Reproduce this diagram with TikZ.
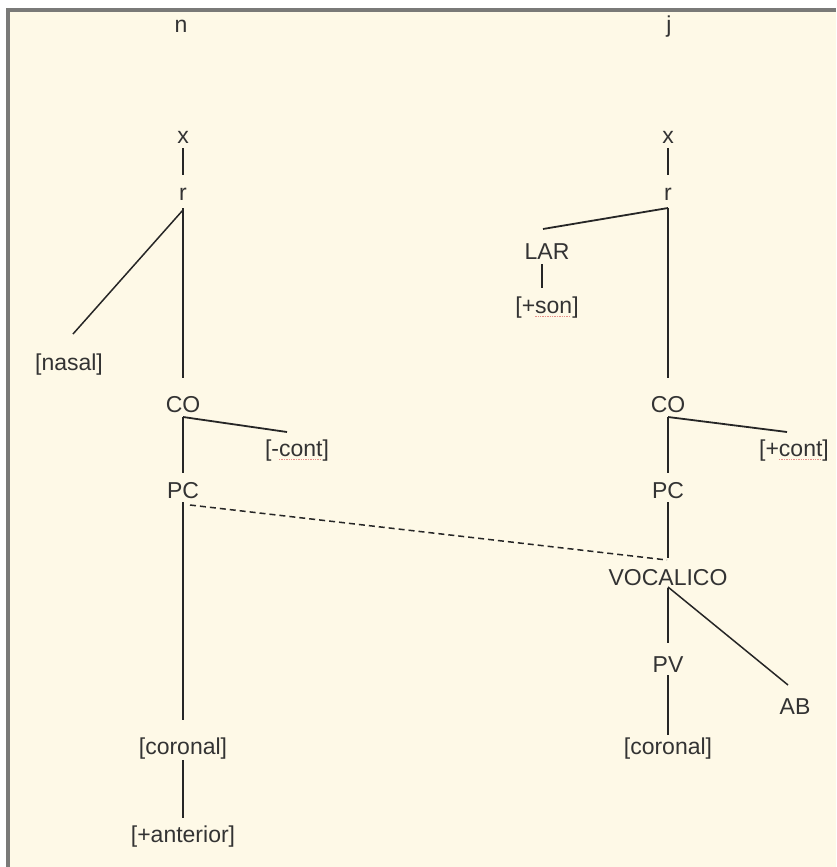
\documentclass[tikz,border=0pt]{standalone}
\usepackage{fontspec}
\setmainfont{Liberation Sans}
\definecolor{paper}{HTML}{FEF9E7}
\definecolor{frame}{HTML}{7A7A78}
\definecolor{ink}{HTML}{333333}
\definecolor{wire}{HTML}{262626}
\definecolor{spell}{HTML}{E8908A}
% dotted red underline under flagged words
\newcommand\spellmark[1]{{\setbox0\hbox{#1}\rlap{\textcolor{spell}{\leaders\hbox{\rule[-4pt]{1.4pt}{1pt}\kern1pt}\hskip\wd0}}\box0}}
\tikzset{
  lbl/.style={inner sep=0pt, outer sep=0pt, anchor=base, text=ink,
              text height=16pt, text depth=5pt},
  branch/.style={draw=wire, line width=1.8pt},
  assoc/.style={draw=wire, line width=1.5pt, dash pattern=on 6pt off 4pt},
}
\begin{document}
\begin{tikzpicture}[x=1pt, y=-1pt, font=\fontsize{23}{26}\selectfont]
\useasboundingbox (0,0) rectangle (836,867);
% panel
\fill[white] (0,0) rectangle (836,867);
\fill[paper] (8,10) rectangle (836,867);
\draw[frame, line width=3.5pt] (8,867) -- (8,10) -- (836,10);

% left segment tree
\node[lbl] (n)     at (181,33)  {n};
\node[lbl] (xL)    at (183,143) {x};
\node[lbl] (rL)    at (183,200) {r};
\node[lbl] (nasal) at (69,370)  {[nasal]};
\node[lbl] (COL)   at (183,412) {CO};
\node[lbl] (mcont) at (297,456) {[-\spellmark{cont}]};
\node[lbl] (PCL)   at (183,498) {PC};
\node[lbl] (corL)  at (183,754) {[coronal]};
\node[lbl] (ant)   at (183,842) {[+anterior]};

% right segment tree
\node[lbl] (j)     at (669,33)  {j};
\node[lbl] (xR)    at (668,143) {x};
\node[lbl] (rR)    at (668,200) {r};
\node[lbl] (LAR)   at (547,259) {LAR};
\node[lbl] (son)   at (547,313) {[+\spellmark{son}]};
\node[lbl] (COR)   at (668,412) {CO};
\node[lbl] (pcont) at (794,456) {[+\spellmark{cont}]};
\node[lbl] (PCR)   at (668,498) {PC};
\node[lbl] (voc)   at (668,585) {VOCALICO};
\node[lbl] (PV)    at (668,672) {PV};
\node[lbl] (AB)    at (795,714) {AB};
\node[lbl] (corR)  at (668,754) {[coronal]};

% left branches
\draw[branch] (xL.south) -- ([yshift=9]rL.north);
\draw[branch, line width=1.5pt] ([yshift=-5]rL.south) -- ([xshift=4,yshift=20]nasal.north);
\draw[branch] ([yshift=-3]rL.south) -- ([yshift=18]COL.north);
\draw[branch] (COL.south) -- ([xshift=-10,yshift=8]mcont.north);
\draw[branch] (COL.south) -- ([yshift=9]PCL.north);
\draw[branch] ([yshift=1]PCL.south) -- ([yshift=18]corL.north);
\draw[branch] ([yshift=-1]corL.south) -- ([yshift=8]ant.north);

% right branches
\draw[branch] (xR.south) -- ([yshift=9]rR.north);
\draw[branch] ([yshift=-3]rR.south) -- ([xshift=-4,yshift=14]LAR.north);
\draw[branch] ([xshift=-5]LAR.south) -- ([xshift=-5,yshift=9]son.north);
\draw[branch] ([yshift=-3]rR.south) -- ([yshift=18]COR.north);
\draw[branch] (COR.south) -- ([xshift=-7,yshift=8]pcont.north);
\draw[branch] (COR.south) -- ([yshift=9]PCR.north);
\draw[branch] ([yshift=1]PCR.south) -- ([yshift=11]voc.north);
\draw[branch] ([yshift=2]voc.south) -- ([yshift=13]PV.north);
\draw[branch, line width=1.5pt] ([yshift=3]voc.south) -- ([xshift=-7,yshift=13]AB.north);
\draw[branch] ([yshift=2]PV.south) -- ([yshift=3]corR.north);

% spreading of the place node
\draw[assoc] ([xshift=7,yshift=-2]PCL.south) -- ([xshift=-1,yshift=9]voc.north);
\end{tikzpicture}
\end{document}
